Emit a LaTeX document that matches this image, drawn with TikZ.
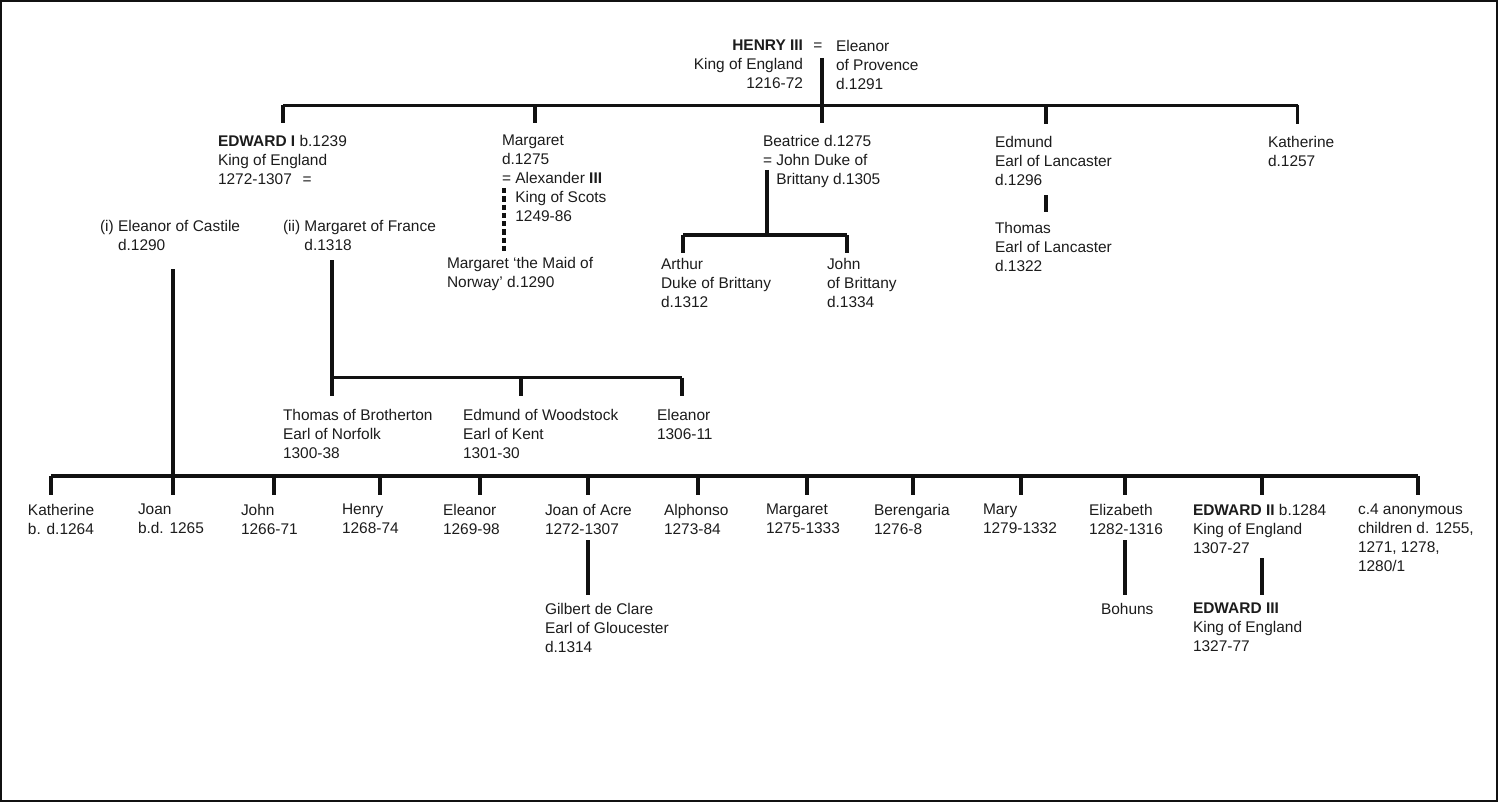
\documentclass[tikz,border=0pt]{standalone}
\usepackage{fontspec}
\setmainfont{Liberation Sans}
\usetikzlibrary{calc}
\definecolor{cink}{HTML}{1C1C1C}
\definecolor{cline}{HTML}{111111}
\tikzset{
  every picture/.style={line width=1.8pt},
  person/.style={anchor=north west, align=left, inner sep=0pt, outer sep=0pt, text=cink, font=\fontsize{8.8}{10.8}\selectfont},
  kin/.style={draw=cline, line width=1.8pt},
  link/.style={draw=cline, line width=1.8pt, dash pattern=on 3pt off 1.7pt},
}

\begin{document}
\begin{tikzpicture}[x=0.02cm, y=-0.02cm]
  \useasboundingbox (0,0) rectangle (1500,804);
  \draw[cline, line width=1.2pt] (1,1) rectangle (1497,801);

  % Henry III = Eleanor of Provence
  \node[person, anchor=north east, align=right] (henry) at (803,40) {\textbf{HENRY III}\\King of England\\1216-72};
  \node[person, anchor=center] (wed) at (818,47) {=};
  \node[person] (provence) at (836,40) {Eleanor\\of Provence\\d.1291};
  \coordinate (union) at (822,58);

  % their children
  \node[person] (edward) at (218,135) {\textbf{EDWARD I} b.1239\\King of England\\1272-1307\hspace{0.7em}=};
  \node[person] (margaret) at (502,135) {Margaret\\d.1275\\= Alexander \textbf{III}\\\phantom{= }King of Scots\\\phantom{= }1249-86};
  \node[person] (beatrice) at (763,135) {Beatrice d.1275\\= John Duke of\\\phantom{= }Brittany d.1305};
  \node[person] (edmund) at (995,136) {Edmund\\Earl of Lancaster\\d.1296};
  \node[person] (katherine) at (1268,136) {Katherine\\d.1257};
  \coordinate (t-edward) at (283,105.5);
  \coordinate (t-margaret) at (535,105.5);
  \coordinate (t-edmund) at (1046,105.5);
  \coordinate (t-katherine) at (1297.5,105.5);
  \draw[kin] (t-edward) -- (t-katherine);
  \draw[kin, shorten >=6.8pt] (union) -- (union |- beatrice.north);
  \draw[kin, shorten >=6.8pt] (t-edward) -- (t-edward |- edward.north);
  \draw[kin, shorten >=6.8pt] (t-margaret) -- (t-margaret |- margaret.north);
  \draw[kin, shorten >=6.8pt] (t-edmund) -- (t-edmund |- edmund.north);
  \draw[kin, shorten >=6.8pt] (t-katherine) -- (t-katherine |- katherine.north);

  % grandchildren outside the crown
  \node[person] (maid) at (447,257) {Margaret `the Maid of\\Norway' d.1290};
  \coordinate (scots) at (504,188);
  \draw[link, shorten >=2.8pt] (scots) -- (scots |- maid.north);

  \node[person] (arthur) at (661,258) {Arthur\\Duke of Brittany\\d.1312};
  \node[person] (johnb) at (827,258) {John\\of Brittany\\d.1334};
  \coordinate (brittany) at (767,170);
  \coordinate (b-mid) at (767,235);
  \coordinate (b-arthur) at (683,235);
  \coordinate (b-john) at (847,235);
  \draw[kin] (brittany) -- (b-mid);
  \draw[kin] (b-arthur) -- (b-john);
  \draw[kin, shorten >=2.8pt] (b-arthur) -- (b-arthur |- arthur.north);
  \draw[kin, shorten >=2.8pt] (b-john) -- (b-john |- johnb.north);

  \node[person] (thomasl) at (995,222) {Thomas\\Earl of Lancaster\\d.1322};
  \draw[kin, shorten <=5.7pt, shorten >=5.7pt] (t-edmund |- edmund.south) -- (t-edmund |- thomasl.north);

  % wives of Edward I
  \node[person] (castile) at (100,220) {(i) Eleanor of Castile\\\phantom{(i) }d.1290};
  \node[person] (france) at (283,220) {(ii) Margaret of France\\\phantom{(ii) }d.1318};

  % second marriage
  \node[person] (brotherton) at (283,409) {Thomas of Brotherton\\Earl of Norfolk\\1300-38};
  \node[person] (woodstock) at (463,409) {Edmund of Woodstock\\Earl of Kent\\1301-30};
  \node[person] (eleanorf) at (657,409) {Eleanor\\1306-11};
  \coordinate (f-thomas) at (332,377.5);
  \coordinate (f-edmund) at (521,377.5);
  \coordinate (f-eleanor) at (682,377.5);
  \draw[kin, shorten <=4pt] (f-thomas |- france.south) -- (f-thomas);
  \draw[kin] (f-thomas) -- (f-eleanor);
  \draw[kin, shorten >=7.4pt] (f-thomas) -- (f-thomas |- brotherton.north);
  \draw[kin, shorten >=7.4pt] (f-edmund) -- (f-edmund |- woodstock.north);
  \draw[kin, shorten >=7.4pt] (f-eleanor) -- (f-eleanor |- eleanorf.north);

  % first marriage
  \node[person] (kath) at (28,504) {Katherine\\b. d.1264};
  \node[person] (joan) at (138,504) {Joan\\b.d. 1265};
  \node[person] (john) at (241,504) {John\\1266-71};
  \node[person] (henryy) at (342,504) {Henry\\1268-74};
  \node[person] (eleanor) at (443,504) {Eleanor\\1269-98};
  \node[person] (acre) at (545,504) {Joan of Acre\\1272-1307};
  \node[person] (alphonso) at (664,504) {Alphonso\\1273-84};
  \node[person] (margt) at (766,504) {Margaret\\1275-1333};
  \node[person] (berengaria) at (874,504) {Berengaria\\1276-8};
  \node[person] (mary) at (983,504) {Mary\\1279-1332};
  \node[person] (elizabeth) at (1089,504) {Elizabeth\\1282-1316};
  \node[person] (edwardii) at (1193,504) {\textbf{EDWARD II} b.1284\\King of England\\1307-27};
  \node[person] (anon) at (1358,504) {c.4 anonymous\\children d. 1255,\\1271, 1278,\\1280/1};
  \coordinate (c-kath) at (51,476);
  \coordinate (c-joan) at (173,476);
  \coordinate (c-john) at (274,476);
  \coordinate (c-henry) at (380,476);
  \coordinate (c-eleanor) at (480,476);
  \coordinate (c-acre) at (588,476);
  \coordinate (c-alphonso) at (698,476);
  \coordinate (c-margt) at (807,476);
  \coordinate (c-berengaria) at (913,476);
  \coordinate (c-mary) at (1021,476);
  \coordinate (c-elizabeth) at (1125,476);
  \coordinate (c-edwardii) at (1262,476);
  \coordinate (c-anon) at (1418,476);
  \draw[kin, shorten <=9pt] (c-joan |- castile.south) -- (c-joan);
  \draw[kin] (c-kath) -- (c-anon);
  \draw[kin, shorten >=5.1pt] (c-kath) -- (c-kath |- kath.north);
  \draw[kin, shorten >=5.1pt] (c-joan) -- (c-joan |- joan.north);
  \draw[kin, shorten >=5.1pt] (c-john) -- (c-john |- john.north);
  \draw[kin, shorten >=5.1pt] (c-henry) -- (c-henry |- henryy.north);
  \draw[kin, shorten >=5.1pt] (c-eleanor) -- (c-eleanor |- eleanor.north);
  \draw[kin, shorten >=5.1pt] (c-acre) -- (c-acre |- acre.north);
  \draw[kin, shorten >=5.1pt] (c-alphonso) -- (c-alphonso |- alphonso.north);
  \draw[kin, shorten >=5.1pt] (c-margt) -- (c-margt |- margt.north);
  \draw[kin, shorten >=5.1pt] (c-berengaria) -- (c-berengaria |- berengaria.north);
  \draw[kin, shorten >=5.1pt] (c-mary) -- (c-mary |- mary.north);
  \draw[kin, shorten >=5.1pt] (c-elizabeth) -- (c-elizabeth |- elizabeth.north);
  \draw[kin, shorten >=5.1pt] (c-edwardii) -- (c-edwardii |- edwardii.north);
  \draw[kin, shorten >=5.1pt] (c-anon) -- (c-anon |- anon.north);

  % next generation
  \node[person] (gilbert) at (545,603) {Gilbert de Clare\\Earl of Gloucester\\d.1314};
  \node[person] (bohuns) at (1101,603) {Bohuns};
  \node[person] (edwardiii) at (1193,603) {\textbf{EDWARD III}\\King of England\\1327-77};
  \draw[kin, shorten <=3.4pt, shorten >=4.5pt] (c-acre |- acre.south) -- (c-acre |- gilbert.north);
  \draw[kin, shorten <=3.4pt, shorten >=4.5pt] (c-elizabeth |- elizabeth.south) -- (c-elizabeth |- bohuns.north);
  \draw[kin, shorten <=2.8pt, shorten >=4.5pt] (c-edwardii |- edwardii.south) -- (c-edwardii |- edwardiii.north);
\end{tikzpicture}
\end{document}
